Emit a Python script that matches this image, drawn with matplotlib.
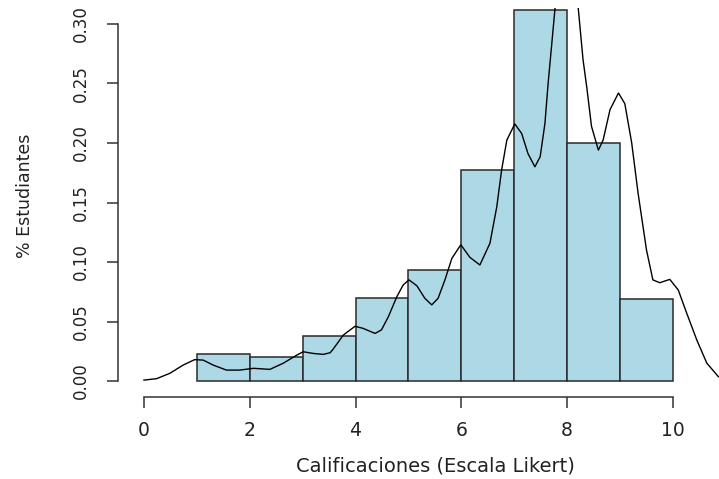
import numpy as np
import matplotlib
matplotlib.use("Agg")
import matplotlib.pyplot as plt

# histogram (density scale), bins of width 1 starting at 1
bin_left = [1, 2, 3, 4, 5, 6, 7, 8, 9]
bin_density = [0.023, 0.020, 0.038, 0.070, 0.0935, 0.177, 0.312, 0.200, 0.069]

# kernel density curve
dens_x = [0.0, 0.24, 0.49, 0.74, 0.96, 1.12, 1.31, 1.56, 1.81, 2.07, 2.38,
          2.63, 2.89, 3.01, 3.2, 3.39, 3.52, 3.58, 3.77, 3.99, 4.14, 4.37,
          4.49, 4.62, 4.78, 4.9, 5.01, 5.16, 5.31, 5.44, 5.56, 5.69, 5.82,
          5.99, 6.16, 6.35, 6.54, 6.67, 6.76, 6.86, 7.01, 7.14, 7.26, 7.39,
          7.49, 7.58, 7.64, 7.71, 7.77, 7.85, 7.95, 8.05, 8.15, 8.21, 8.3,
          8.37, 8.46, 8.59, 8.68, 8.81, 8.97, 9.09, 9.22, 9.34, 9.5, 9.62,
          9.75, 9.94, 10.1, 10.26, 10.45, 10.64, 10.86, 11.0]
dens_y = [0.0008, 0.002, 0.0065, 0.0134, 0.018, 0.0176, 0.0134, 0.0092,
          0.0092, 0.0107, 0.0098, 0.0149, 0.0218, 0.0246, 0.0232, 0.0224,
          0.0238, 0.027, 0.0387, 0.046, 0.0443, 0.040, 0.043, 0.054, 0.0708,
          0.0807, 0.085, 0.080, 0.0695, 0.064, 0.0695, 0.085, 0.103, 0.1145,
          0.104, 0.0975, 0.1157, 0.1465, 0.177, 0.2025, 0.216, 0.208, 0.191,
          0.180, 0.1885, 0.2165, 0.25, 0.2838, 0.313, 0.345, 0.36, 0.355,
          0.335, 0.313, 0.27, 0.247, 0.214, 0.194, 0.2025, 0.228, 0.242,
          0.233, 0.200, 0.158, 0.110, 0.085, 0.0826, 0.0854, 0.0765, 0.057,
          0.0345, 0.015, 0.0036, 0.0005]

x_ticks = [0, 2, 4, 6, 8, 10]
y_ticks = [0.00, 0.05, 0.10, 0.15, 0.20, 0.25, 0.30]

W, H = 719, 479
plt.rcParams['font.family'] = ['DejaVu Sans']
fig = plt.figure(figsize=(W / 100, H / 100), dpi=100)

# plot region in pixels (left, top, right, bottom)
left, top, right, bottom = 118, 8, 719, 397
ax = fig.add_axes([left / W, 1 - bottom / H, (right - left) / W, (bottom - top) / H])

ax.bar(bin_left, bin_density, width=1, align='edge', color='#add8e6',
       edgecolor='#2a2a2a', linewidth=1.1)
ax.plot(dens_x, dens_y, color='black', linewidth=1.0)

ax.set_xlim(-0.49, 10.87)
ax.set_ylim(-0.0134, 0.3134)

# R style axes: lines only over the tick range
for s in ['top', 'right']:
    ax.spines[s].set_visible(False)
ax.spines['left'].set_bounds(0, 0.3)
ax.spines['bottom'].set_bounds(0, 10)
for s in ['left', 'bottom']:
    ax.spines[s].set_color('#333333')
    ax.spines[s].set_linewidth(1.1)

ax.set_xticks(x_ticks)
ax.set_xticklabels([str(t) for t in x_ticks])
ax.set_yticks(y_ticks)
ax.set_yticklabels(["%.2f" % t for t in y_ticks], rotation=90, va='center')
ax.tick_params(axis='both', direction='out', length=8, width=1.1,
               color='#333333', labelcolor='#222222')
ax.tick_params(axis='x', pad=9, labelsize=13.5)
ax.tick_params(axis='y', pad=12, labelsize=12)

fig.text(435 / W, 1 - 472 / H, "Calificaciones (Escala Likert)", fontsize=14,
         ha='center', va='baseline', color='#222222')
fig.text(25 / W, 1 - 196 / H, "% Estudiantes", fontsize=12.5, rotation=90,
         ha='center', va='center', color='#222222')

fig.savefig("out.png", dpi=100)
